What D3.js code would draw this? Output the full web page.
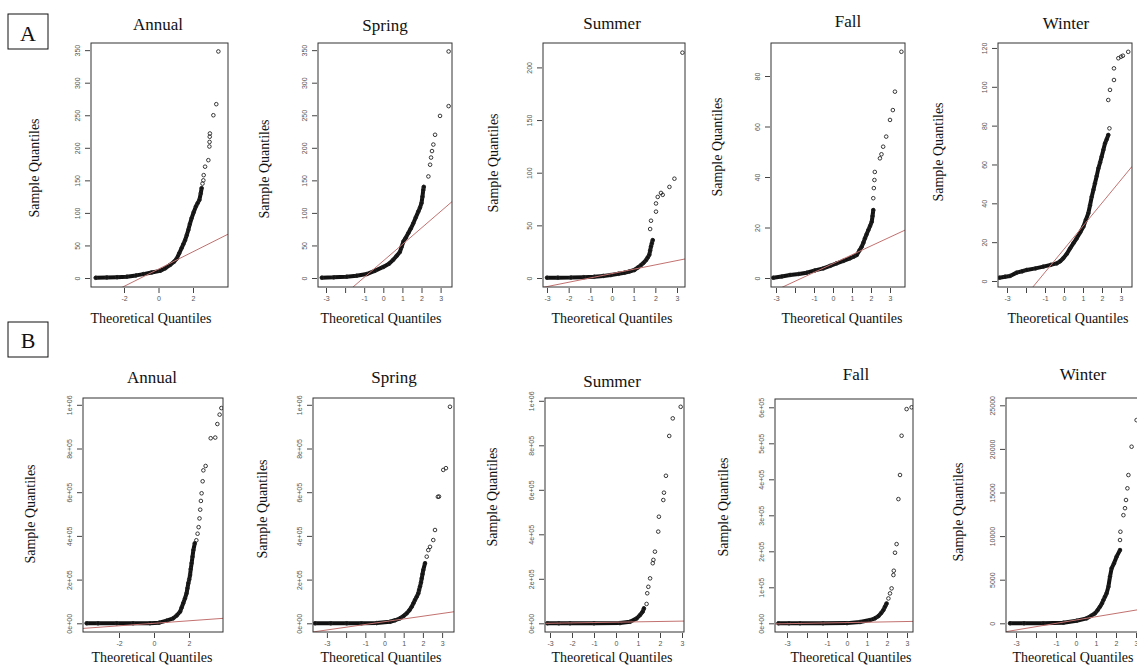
<!DOCTYPE html>
<html>
<head>
<meta charset="utf-8">
<script src="https://cdn.jsdelivr.net/npm/d3@7"></script>
<style>
  body { margin: 0; background: #fff; }
  svg { display: block; }
  .serif { font-family: "Liberation Serif", "Times New Roman", serif; fill: #111; }
</style>
</head>
<body>
<svg id="chart" width="1137" height="667"></svg>
<script>
'use strict';

const titles = ["Annual", "Spring", "Summer", "Fall", "Winter"];

// theoretical quantile, sample quantile
// row A
const annualA_body = [[-3.64,0.3],[-3.0,0.8],[-2.4,1.3],[-1.84,2],[-1.3,4],[-0.88,6],[-0.4,8.5],[0.09,11],[0.4,15],[0.67,20],[0.9,25],[1.06,30],[1.2,38],[1.34,46],[1.44,52],[1.54,58],[1.64,66],[1.73,74],[1.82,83],[1.92,92],[2.04,101],[2.17,110],[2.27,115],[2.37,120],[2.45,130],[2.5,138]];
const annualA_tail = [[2.55,145],[2.6,150],[2.62,158],[2.7,171],[2.89,181],[2.95,202],[2.96,209],[2.97,217],[2.98,222],[3.18,250],[3.35,267],[3.47,348]];
const springA_body = [[-3.22,0.5],[-2.6,1],[-1.92,2],[-1.4,3.5],[-0.87,6],[-0.45,11],[0,17],[0.3,22],[0.52,28],[0.7,34],[0.87,40],[0.96,48],[1.05,56],[1.18,62],[1.31,69],[1.44,76],[1.57,84],[1.7,93],[1.83,102],[1.92,108],[2.0,115],[2.05,125],[2.09,135],[2.12,140]];
const springA_tail = [[2.36,156],[2.45,174],[2.5,185],[2.55,195],[2.62,205],[2.71,220],[2.97,249],[3.42,264],[3.42,348]];
const summerA_body = [[-3.0,0.3],[-2.5,0.3],[-1.9,0.4],[-1.3,0.8],[-0.82,1.2],[-0.4,2],[-0.05,2.8],[0.3,4],[0.57,5],[0.8,6.2],[1.03,7.6],[1.2,10],[1.34,12.3],[1.46,14.5],[1.57,17],[1.65,19.5],[1.72,22],[1.76,26],[1.8,30],[1.84,33],[1.88,36]];
const summerA_tail = [[1.76,46.5],[1.8,54.4],[2.03,63],[2.03,70.8],[2.11,77],[2.26,80.8],[2.34,79],[2.65,86.5],[2.88,94.3],[3.25,214]];
const fallA_body = [[-3.14,0.1],[-2.7,0.6],[-2.26,1.2],[-1.8,1.6],[-1.38,2.1],[-0.95,3],[-0.51,3.8],[-0.15,4.8],[0.19,5.8],[0.55,6.8],[0.89,7.8],[1.1,8.5],[1.25,9.1],[1.4,11],[1.51,12.4],[1.6,14],[1.68,15.7],[1.77,17.3],[1.86,19],[1.95,20.6],[2.04,22.3],[2.08,24.5],[2.12,26.9]];
const fallA_tail = [[2.12,31.6],[2.15,35.6],[2.18,38.8],[2.2,42],[2.47,47.4],[2.55,49],[2.64,52],[2.8,56],[3.0,62.6],[3.15,66.5],[3.26,73.8],[3.6,89.6]];
const winterA_body = [[-3.4,1.7],[-3.1,2.2],[-2.84,2.6],[-2.49,4.3],[-2.2,5],[-1.96,5.7],[-1.5,6.5],[-1.09,7.4],[-0.7,8.3],[-0.38,9.1],[-0.2,10.2],[-0.04,11.7],[0.15,14],[0.32,16.8],[0.5,19.5],[0.67,22],[0.85,25],[1.02,28],[1.15,31.5],[1.28,34.9],[1.37,39],[1.46,43.4],[1.55,47],[1.63,50.3],[1.72,54],[1.81,58],[1.9,61],[1.98,64],[2.07,67.5],[2.16,70.9],[2.25,73],[2.33,75.2]];
const winterA_tail = [[2.39,78.6],[2.33,93.2],[2.42,98.4],[2.63,103.5],[2.63,109.5],[2.86,114.7],[3.0,115.5],[3.1,116],[3.38,118]];

// row B
const annualB_body = [[-3.85,0],[-3.2,0],[-2.13,0],[-1.2,0],[-0.23,500],[0.3,3000],[0.72,12000],[1.1,23000],[1.3,36000],[1.49,53000],[1.58,72000],[1.67,92000],[1.77,114000],[1.86,137000],[1.91,160000],[1.96,183000],[2.01,200000],[2.06,221000],[2.1,248000],[2.15,275000],[2.2,305000],[2.25,335000],[2.33,366000]];
const annualB_tail = [[2.42,380000],[2.49,410000],[2.55,440000],[2.6,480000],[2.64,520000],[2.68,560000],[2.72,595000],[2.78,650000],[2.82,700000],[2.95,720000],[3.24,847000],[3.5,850000],[3.62,912000],[3.75,955000],[3.85,985000]];
const springB_body = [[-3.62,0],[-2.8,0],[-1.97,0],[-1.2,0],[-0.41,1000],[0.29,7000],[0.55,14000],[0.81,23000],[1.0,34000],[1.16,46000],[1.3,60000],[1.42,76000],[1.51,92000],[1.59,107000],[1.68,122000],[1.76,137000],[1.8,152000],[1.85,168000],[1.9,187000],[1.94,206000],[1.98,225000],[2.02,244000],[2.11,275000]];
const springB_tail = [[2.2,305000],[2.28,335000],[2.37,350000],[2.54,381000],[2.63,427000],[2.78,579000],[2.84,580000],[3.06,702000],[3.2,710000],[3.41,991000]];
const summerB_body = [[-3.12,0],[-2.6,0],[-2.09,0],[-1.0,0],[0.18,1000],[0.64,7000],[0.94,22000],[1.09,37000],[1.21,52000],[1.27,67000]];
const summerB_tail = [[1.39,87000],[1.42,135000],[1.47,164000],[1.55,202000],[1.67,270000],[1.7,285000],[1.77,322000],[1.92,412000],[1.95,479000],[2.15,554000],[2.18,587000],[2.27,663000],[2.42,842000],[2.58,921000],[2.94,973000]];
const fallB_body = [[-3.43,0],[-2.9,0],[-2.35,0],[-1.2,0],[0,500],[0.65,3600],[1.15,9000],[1.4,14000],[1.57,20000],[1.7,28000],[1.82,37000],[1.9,46000],[1.98,55000]];
const fallB_tail = [[2.07,69000],[2.15,83000],[2.23,97000],[2.32,134000],[2.34,146000],[2.4,196000],[2.48,220000],[2.57,345000],[2.65,412000],[2.73,521000],[2.98,595000],[3.23,600000]];
const winterB_body = [[-3.3,0],[-2.6,0],[-1.63,0],[-0.63,70],[0.03,300],[0.53,570],[0.75,850],[0.95,1150],[1.08,1500],[1.2,1900],[1.3,2300],[1.37,2670],[1.45,3050],[1.53,3440],[1.62,4200],[1.7,5350],[1.78,6300],[1.9,6880],[2.03,7640],[2.2,8400]];
const winterB_tail = [[2.2,9550],[2.22,10500],[2.37,12400],[2.45,13200],[2.5,14140],[2.57,15480],[2.62,17000],[2.78,20250],[3.03,23300]];

// qqline: [intercept, slope]
const linesA = [[13.7,13.3],[26.3,25.3],[4.2,4.12],[5.7,3.5],[16.4,11.9]];
const linesB = [[0,5750],[7300,12600],[5000,1600],[2000,1000],[374,381]];

// tick values
const xTicksWide = [-2, 0, 2];
const xTicksAll = [-3, -2, -1, 0, 1, 2, 3];
const xLabelsNoMinus2 = [-3, -1, 0, 1, 2, 3];
const yTicks350 = [0, 50, 100, 150, 200, 250, 300, 350];
const yTicks200 = [0, 50, 100, 150, 200];
const yTicks80 = [0, 20, 40, 60, 80];
const yTicks120 = [0, 20, 40, 60, 80, 100, 120];
const yTicks1e6 = [0, 200000, 400000, 600000, 800000, 1000000];
const yTicks6e5 = [0, 100000, 200000, 300000, 400000, 500000, 600000];
const yTicks25k = [0, 5000, 10000, 15000, 20000, 25000];

// R style exponent labels: 2e+05
const rExp = d => d === 0 ? "0e+00" : d3.format(".0e")(d).replace(/e([+-])(\d)$/, "e$10$2");
const plain = d => String(d);

// layout (pixel calibration of each panel)
const panels = [
  {id:"aA", title:titles[0], body:annualA_body, tail:annualA_tail, line:linesA[0], l:91, r:228, t:43, b:287, x0:158.5, ppu:17.25, y0:278, ppy:0.651, yTicks:yTicks350, yFmt:plain, xTicks:xTicksWide, xLabels:xTicksWide, tPos:[158,30], yl:[34,168], xl:[151,323]},
  {id:"sA", title:titles[1], body:springA_body, tail:springA_tail, line:linesA[1], l:318, r:452, t:43, b:287, x0:383.3, ppu:19.1, y0:278, ppy:0.651, yTicks:yTicks350, yFmt:plain, xTicks:xTicksAll, xLabels:xLabelsNoMinus2, tPos:[385,31], yl:[264,169], xl:[381,323]},
  {id:"uA", title:titles[2], body:summerA_body, tail:summerA_tail, line:linesA[2], l:543, r:685, t:43, b:287, x0:612, ppu:21.67, y0:278, ppy:1.053, yTicks:yTicks200, yFmt:plain, xTicks:xTicksAll, xLabels:xTicksAll, tPos:[612,29], yl:[493,163], xl:[612,323]},
  {id:"fA", title:titles[3], body:fallA_body, tail:fallA_tail, line:linesA[3], l:771, r:905, t:43, b:287, x0:833, ppu:19, y0:278, ppy:2.525, yTicks:yTicks80, yFmt:plain, xTicks:xTicksAll, xLabels:xLabelsNoMinus2, tPos:[848,27], yl:[717,147], xl:[842,323]},
  {id:"wA", title:titles[4], body:winterA_body, tail:winterA_tail, line:linesA[4], l:998, r:1132, t:43, b:287, x0:1064, ppu:19, y0:281, ppy:1.942, yTicks:yTicks120, yFmt:plain, xTicks:xTicksAll, xLabels:xLabelsNoMinus2, tPos:[1066,29], yl:[938,152], xl:[1068,323]},
  {id:"aB", title:titles[0], body:annualB_body, tail:annualB_tail, line:linesB[0], l:83, r:223, t:398, b:632, x0:154, ppu:17.5, y0:623.3, ppy:43.7/200000, yTicks:yTicks1e6, yFmt:rExp, xTicks:xTicksWide, xLabels:xTicksWide, tPos:[152,383], yl:[30,514], xl:[152,662]},
  {id:"sB", title:titles[1], body:springB_body, tail:springB_tail, line:linesB[1], l:313, r:454, t:398, b:632, x0:384.5, ppu:19.2, y0:623.3, ppy:43.7/200000, yTicks:yTicks1e6, yFmt:rExp, xTicks:xTicksAll, xLabels:xLabelsNoMinus2, tPos:[394,383], yl:[262,509], xl:[381,662]},
  {id:"uB", title:titles[2], body:summerB_body, tail:summerB_tail, line:linesB[2], l:545, r:684, t:398, b:632, x0:616, ppu:22, y0:623.3, ppy:44.5/200000, yTicks:yTicks1e6, yFmt:rExp, xTicks:xTicksAll, xLabels:xTicksAll, tPos:[612,387], yl:[492,497], xl:[612,662]},
  {id:"fB", title:titles[3], body:fallB_body, tail:fallB_tail, line:linesB[3], l:775, r:913, t:399, b:632, x0:847, ppu:20, y0:623.3, ppy:36/100000, yTicks:yTicks6e5, yFmt:rExp, xTicks:xTicksAll, xLabels:xLabelsNoMinus2, tPos:[856,380], yl:[723,507], xl:[851,662]},
  {id:"wB", title:titles[4], body:winterB_body, tail:winterB_tail, line:linesB[4], l:1006, r:1150, t:398, b:632, x0:1076, ppu:20, y0:623.3, ppy:43.6/5000, yTicks:yTicks25k, yFmt:plain, xTicks:xTicksAll, xLabels:xLabelsNoMinus2, tPos:[1083,380], yl:[958,512], xl:[1073,662]}
];

const svg = d3.select("#chart");
const defs = svg.append("defs");

// panel letters
[["A", 8, 14, 40, 35, 41], ["B", 8, 322, 40, 35, 348]].forEach(([lab, bx, by, bw, bh, base]) => {
  svg.append("rect").attr("x", bx).attr("y", by).attr("width", bw).attr("height", bh)
    .attr("fill", "none").attr("stroke", "#111").attr("stroke-width", 1);
  svg.append("text").attr("class", "serif").attr("x", bx + bw / 2).attr("y", base)
    .attr("text-anchor", "middle").attr("font-size", 22).text(lab);
});

function drawPanel(p) {
  const g = svg.append("g");
  const x = d3.scaleLinear()
    .domain([(p.l - p.x0) / p.ppu, (p.r - p.x0) / p.ppu])
    .range([p.l, p.r]);
  const y = d3.scaleLinear()
    .domain([(p.y0 - p.b) / p.ppy, (p.y0 - p.t) / p.ppy])
    .range([p.b, p.t]);

  defs.append("clipPath").attr("id", "clip-" + p.id)
    .append("rect").attr("x", p.l).attr("y", p.t).attr("width", p.r - p.l).attr("height", p.b - p.t);

  const plot = g.append("g").attr("clip-path", `url(#clip-${p.id})`);

  // dense part of the sample: overlapping circles look like a solid band
  plot.append("path").datum(p.body)
    .attr("d", d3.line().x(d => x(d[0])).y(d => y(d[1])))
    .attr("fill", "none").attr("stroke", "#111").attr("stroke-width", 4)
    .attr("stroke-linecap", "round").attr("stroke-linejoin", "round");

  plot.selectAll("circle").data(p.body.concat(p.tail)).join("circle")
    .attr("cx", d => x(d[0])).attr("cy", d => y(d[1])).attr("r", 1.8)
    .attr("fill", "none").attr("stroke", "#222").attr("stroke-width", 0.9);

  // qqline
  const xd = x.domain();
  plot.append("line")
    .attr("x1", x(xd[0])).attr("y1", y(p.line[0] + p.line[1] * xd[0]))
    .attr("x2", x(xd[1])).attr("y2", y(p.line[0] + p.line[1] * xd[1]))
    .attr("stroke", "#c27270").attr("stroke-width", 1);

  // box
  g.append("rect").attr("x", p.l).attr("y", p.t).attr("width", p.r - p.l).attr("height", p.b - p.t)
    .attr("fill", "none").attr("stroke", "#333").attr("stroke-width", 1);

  // y axis, labels parallel to the axis as in R
  const ya = g.append("g").attr("transform", `translate(${p.l - 1},0)`)
    .call(d3.axisLeft(y).tickValues(p.yTicks).tickSize(5).tickFormat(p.yFmt));
  ya.select(".domain").remove();
  ya.attr("font-family", "'Liberation Sans', Arial, sans-serif").attr("font-size", 7);
  ya.selectAll(".tick line").attr("stroke", "#444");
  ya.selectAll(".tick text")
    .attr("x", null).attr("dy", null)
    .attr("transform", "translate(-13,0) rotate(-90)")
    .attr("text-anchor", "middle")
    .attr("dominant-baseline", "central")
    .attr("fill", "#555");

  // x axis
  const xa = g.append("g").attr("transform", `translate(0,${p.b + 1})`)
    .call(d3.axisBottom(x).tickValues(p.xTicks).tickSize(5)
      .tickFormat(d => p.xLabels.includes(d) ? String(d) : ""));
  xa.select(".domain").remove();
  xa.attr("font-family", "'Liberation Sans', Arial, sans-serif").attr("font-size", 7);
  xa.selectAll(".tick line").attr("stroke", "#444");
  xa.selectAll(".tick text").attr("y", 8).attr("fill", "#555");

  // titles
  g.append("text").attr("class", "serif").attr("x", p.tPos[0]).attr("y", p.tPos[1])
    .attr("text-anchor", "middle").attr("font-size", 17).text(p.title);
  g.append("text").attr("class", "serif").attr("x", p.xl[0]).attr("y", p.xl[1])
    .attr("text-anchor", "middle").attr("font-size", 14).text("Theoretical Quantiles");
  g.append("text").attr("class", "serif")
    .attr("transform", `translate(${p.yl[0] + 5},${p.yl[1]}) rotate(-90)`)
    .attr("text-anchor", "middle").attr("font-size", 14).text("Sample Quantiles");
}

panels.forEach(drawPanel);
</script>
</body>
</html>
